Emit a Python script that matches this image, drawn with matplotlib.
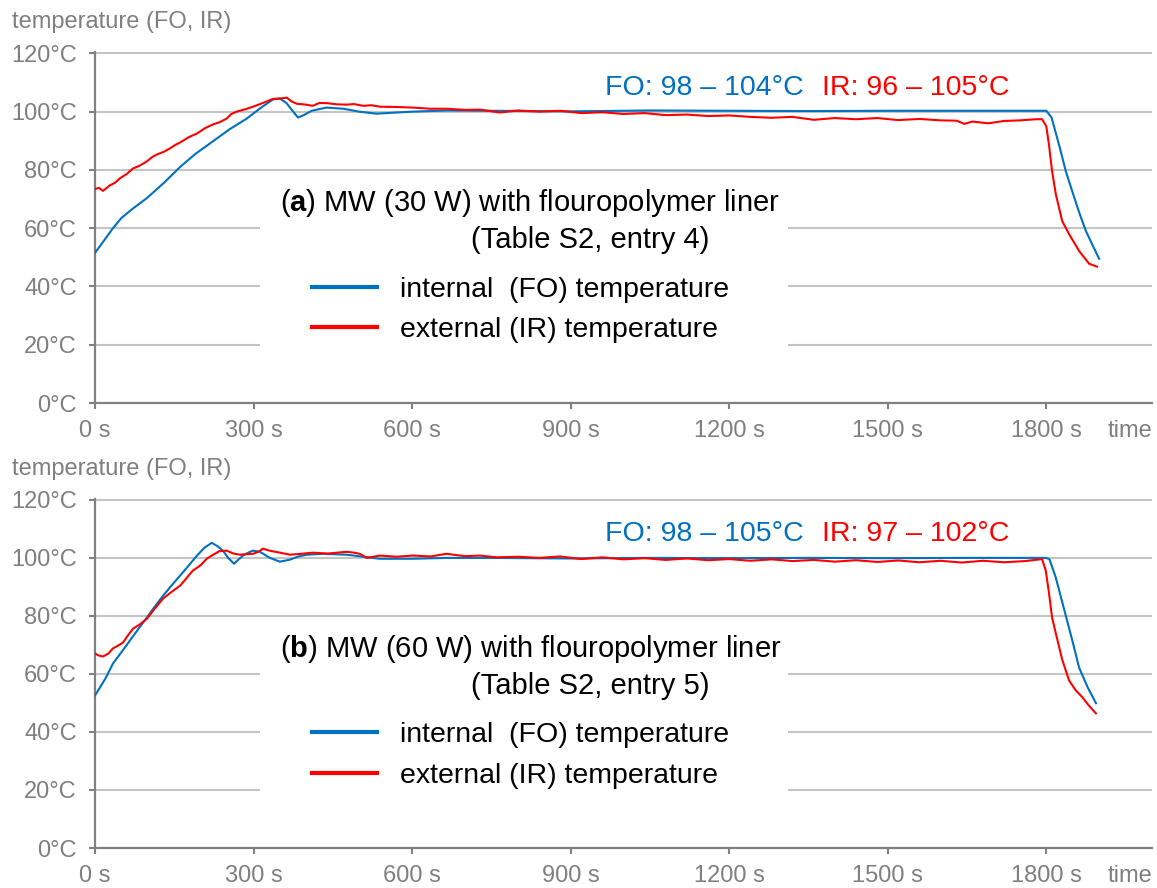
import numpy as np
import matplotlib
matplotlib.use('Agg')
import matplotlib.pyplot as plt
from matplotlib.lines import Line2D
from matplotlib.patches import Rectangle

plt.rcParams['font.family'] = ['Liberation Sans', 'DejaVu Sans']
plt.rcParams['mathtext.fontset'] = 'custom'
plt.rcParams['mathtext.rm'] = 'Liberation Sans'
plt.rcParams['mathtext.bf'] = 'Liberation Sans:bold'

# ---- panel (a): 30 W ----
t_fo_a = [0, 10, 20, 34, 50, 70, 98, 130, 161, 190, 223, 255, 287, 315, 337, 350, 362, 375, 384, 395,
          410, 438, 470, 500, 533, 570, 601, 665, 750, 900, 1050, 1200, 1350, 1500, 1650, 1800,
          1810, 1825, 1837, 1849, 1862, 1875, 1888, 1900]
T_fo_a = [51.5, 54, 56.5, 60, 63.5, 66.5, 70.3, 75.5, 81, 85.5, 89.8, 94, 97.6, 101.5, 104.2, 104.5, 103, 100, 98, 98.8,
          100.3, 101.4, 101, 100, 99.3, 99.7, 100, 100.4, 100.3, 100.1, 100.4, 100.3, 100.2, 100.3, 100.3, 100.3,
          98, 88, 79.5, 72.7, 65.5, 59, 54, 49.5]

t_ir_a = [0, 8, 15, 22, 28, 38, 47, 60, 72, 85, 98, 108, 117, 130, 142, 152, 161, 177, 193, 208, 223, 236, 249,
          258, 268, 284, 299, 318, 337, 350, 363, 372, 382, 395, 412, 425, 440, 458, 476, 490, 507, 523, 539,
          570, 601, 635, 665, 700, 728, 766, 800, 840, 880, 920, 960, 1000, 1040, 1080, 1120, 1160, 1200,
          1240, 1280, 1320, 1360, 1400, 1440, 1480, 1520, 1560, 1600, 1630, 1645, 1660, 1690, 1720, 1750,
          1780, 1792, 1800, 1805, 1811, 1818, 1830, 1843, 1862, 1881, 1896]
T_ir_a = [73.5, 73.8, 72.8, 73.8, 74.7, 75.6, 77.1, 78.6, 80.5, 81.5, 82.9, 84.4, 85.3, 86.2, 87.4, 88.6, 89.4, 91.2,
          92.5, 94.3, 95.6, 96.4, 97.6, 99.2, 100, 100.8, 101.7, 103, 104.4, 104.5, 104.8, 103.5, 102.7, 102.5,
          102, 103, 102.9, 102.5, 102.4, 102.6, 102, 102.2, 101.7, 101.6, 101.4, 101, 101, 100.6, 100.7, 99.7,
          100.4, 100, 100.3, 99.5, 99.8, 99.2, 99.5, 98.8, 99.0, 98.5, 98.7, 98.2, 97.9, 98.2, 97.2, 97.8,
          97.4, 97.8, 97.1, 97.5, 97.0, 96.9, 95.8, 96.6, 96.0, 96.8, 97.0, 97.4, 97.4, 95, 88.7, 79.5, 71.7,
          62.5, 58, 52.2, 47.8, 46.8]

# ---- panel (b): 60 W ----
t_fo_b = [0, 10, 20, 34, 50, 66, 82, 98, 113, 129, 145, 161, 177, 193, 207, 221, 232, 242, 252, 263, 272, 280,
          290, 299, 312, 331, 350, 369, 385, 401, 431, 476, 539, 601, 665, 750, 900, 1050, 1200, 1350, 1500,
          1650, 1800, 1806, 1818, 1837, 1850, 1862, 1878, 1894]
T_fo_b = [52.6, 55.5, 58.5, 63.6, 67.5, 71.5, 75.5, 79.4, 83.2, 87, 90.5, 93.9, 97.3, 100.8, 103.5, 105.2, 104,
          102.5, 100, 98, 99.5, 100.8, 101.8, 102.5, 102.1, 100, 98.7, 99.4, 100.5, 101.1, 101.4, 101.1, 99.7,
          99.7, 100, 100, 99.8, 100, 99.9, 100, 99.9, 100, 100, 99.5, 93.2, 80, 71, 62.2, 55.5, 49.9]

t_ir_b = [0, 8, 15, 25, 34, 44, 53, 62, 72, 85, 98, 113, 129, 145, 161, 173, 185, 200, 212, 221, 235, 249, 262,
          274, 287, 299, 310, 318, 330, 350, 369, 390, 412, 440, 476, 490, 501, 514, 539, 570, 601, 635, 665,
          700, 728, 760, 800, 840, 880, 920, 960, 1000, 1040, 1080, 1120, 1160, 1200, 1240, 1280, 1320, 1360,
          1400, 1440, 1480, 1520, 1560, 1600, 1640, 1680, 1720, 1760, 1792, 1799, 1805, 1811, 1818, 1830,
          1843, 1855, 1868, 1881, 1894]
T_ir_b = [67, 66.3, 66, 67, 68.8, 69.8, 70.8, 73.2, 75.6, 77.1, 79, 82.5, 86, 88.3, 90.4, 93, 95.6, 97.5, 99.8,
          100.8, 102.3, 102.5, 101.5, 101.1, 101.3, 101.4, 102.2, 103.2, 102.5, 101.8, 101.1, 101.4, 101.8,
          101.5, 102.1, 101.8, 101.4, 100, 100.8, 100.4, 100.8, 100.5, 101.4, 100.6, 100.8, 100.2, 100.4, 100,
          100.5, 99.6, 100.2, 99.5, 99.9, 99.3, 99.8, 99.2, 99.6, 99, 99.5, 98.9, 99.3, 98.7, 99.2, 98.6, 99.1,
          98.5, 99, 98.4, 99, 98.5, 98.9, 99.6, 95.6, 88, 79.4, 74, 65, 57.8, 54.5, 52, 49, 46.4]

x_ticks = [0, 300, 600, 900, 1200, 1500, 1800]
y_ticks = [0, 20, 40, 60, 80, 100, 120]

BLUE = '#0070C0'
RED = '#FF0000'
GREY = '#7f7f7f'


def panel(ax, tf, Tf, ti, Ti, letter, watt, entry, fo_txt, ir_txt):
    ax.set_xlim(0, 2000)
    ax.set_ylim(0, 120.3)
    ax.set_xticks(x_ticks)
    ax.set_xticklabels([f'{v} s' for v in x_ticks])
    ax.set_yticks(y_ticks)
    ax.set_yticklabels([f'{v}°C' for v in y_ticks])
    ax.yaxis.grid(True, color='#c4c4c4', lw=1.5)
    ax.set_axisbelow(True)
    for s in ['top', 'right']:
        ax.spines[s].set_visible(False)
    for s in ['left', 'bottom']:
        ax.spines[s].set_color('#808080')
        ax.spines[s].set_linewidth(1.6)
    ax.tick_params(colors='#808080', labelcolor=GREY, labelsize=17, width=1.5, length=4)
    ax.tick_params(axis='x', pad=8.5)
    ax.tick_params(axis='y', pad=9)

    # white box hiding grid behind annotation + legend
    ax.add_patch(Rectangle((0.156, 0.14), 0.50, 0.50, transform=ax.transAxes,
                           facecolor='white', edgecolor='none', zorder=1.5))

    ax.plot(tf, Tf, color=BLUE, lw=1.5, zorder=3)
    ax.plot(ti, Ti, color=RED, lw=1.5, zorder=3)

    ax.text(0.175, 0.571, r'($\mathbf{' + letter + r'}$) MW (' + watt + ' W) with flouropolymer liner',
            transform=ax.transAxes, fontsize=21, va='center', ha='left', zorder=4)
    ax.text(0.3557, 0.465, f'(Table S2, entry {entry})', transform=ax.transAxes,
            fontsize=21, va='center', ha='left', zorder=4)

    ax.text(0.4825, 0.899, fo_txt, transform=ax.transAxes, fontsize=20.5, color=BLUE,
            va='center', ha='left')
    ax.text(0.688, 0.899, ir_txt, transform=ax.transAxes, fontsize=20.5, color=RED,
            va='center', ha='left')

    handles = [Line2D([], [], color=BLUE, lw=3), Line2D([], [], color=RED, lw=3)]
    ax.legend(handles, ['internal  (FO) temperature', 'external (IR) temperature'],
              loc='upper left', bbox_to_anchor=(0.2053, 0.36), frameon=False, fontsize=20.5,
              handlelength=2.3, handletextpad=0.8, labelspacing=0.5, borderpad=0, borderaxespad=0)

    ax.text(0.958, -0.08, 'time', transform=ax.transAxes, fontsize=17, color=GREY,
            va='center', ha='left')
    ax.text(-0.0785, 1.087, 'temperature (FO, IR)', transform=ax.transAxes, fontsize=17,
            color=GREY, va='center', ha='left')


fig = plt.figure(figsize=(11.57, 8.88), dpi=100)
ax1 = fig.add_axes([95 / 1157, (888 - 403) / 888, 1057 / 1157, 350.5 / 888])
ax2 = fig.add_axes([95 / 1157, (888 - 848) / 888, 1057 / 1157, 349 / 888])

panel(ax1, t_fo_a, T_fo_a, t_ir_a, T_ir_a, 'a', '30', 4, 'FO: 98 – 104°C', 'IR: 96 – 105°C')
panel(ax2, t_fo_b, T_fo_b, t_ir_b, T_ir_b, 'b', '60', 5, 'FO: 98 – 105°C', 'IR: 97 – 102°C')

fig.savefig('out.png', dpi=100)
